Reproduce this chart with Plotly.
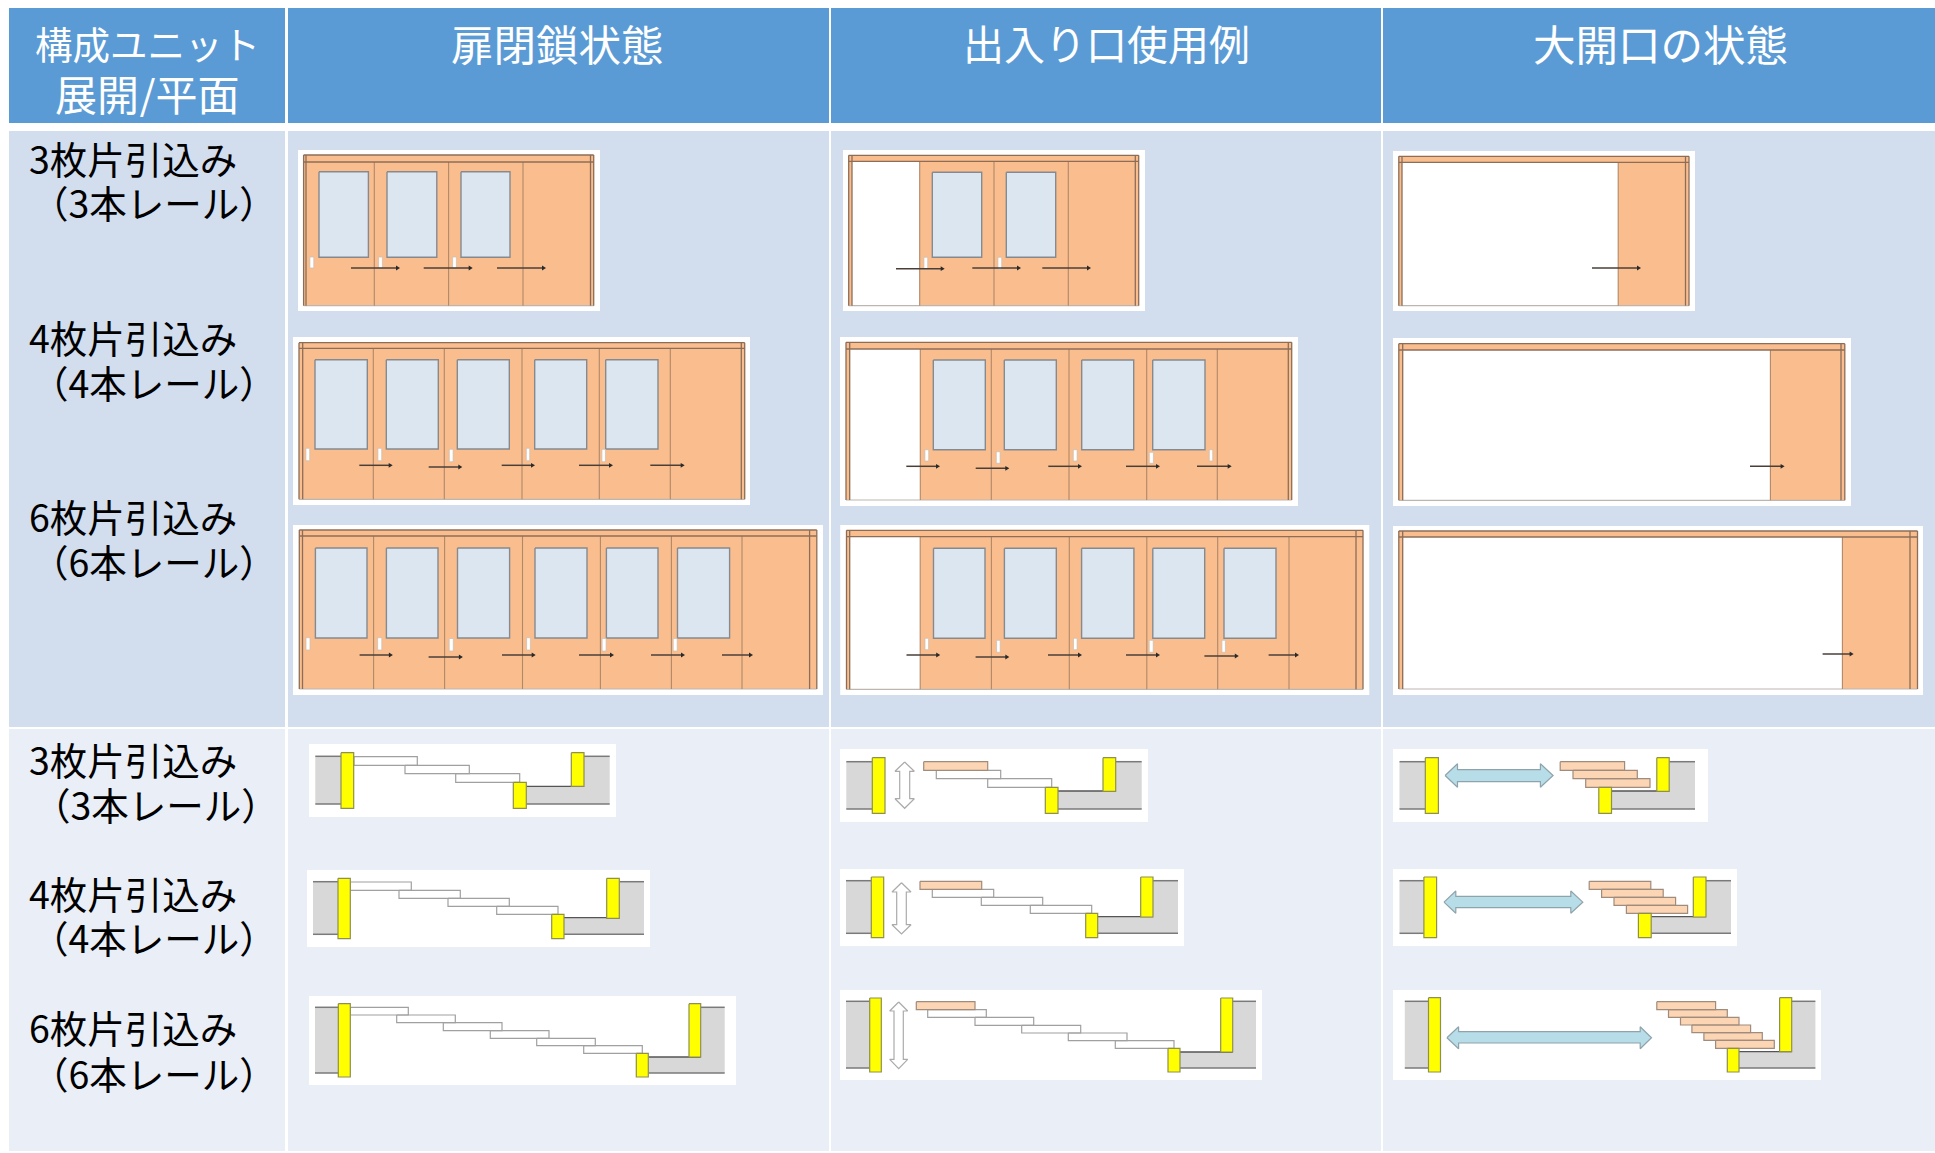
import plotly.graph_objects as go

# ---------- table text ----------
HEADERS = ["構成ユニット", "展開/平面", "扉閉鎖状態", "出入り口使用例", "大開口の状態"]
HEADER_X = [147, 147, 557, 1106, 1660]
HEADER_Y = [41.5, 91.5, 41.5, 41.5, 41.5]
HEADER_SIZE = [37.5, 42, 42.5, 41, 42.5]
LABELS_1 = ["3枚片引込み", "4枚片引込み", "6枚片引込み", "3枚片引込み", "4枚片引込み", "6枚片引込み"]
LABELS_2 = ["（3本レール）", "（4本レール）", "（6本レール）", "（3本レール）", "（4本レール）", "（6本レール）"]
LABEL_Y1 = [157, 336, 515, 758, 892, 1026]
LABEL_Y2 = [201, 381, 560, 803, 936, 1072]
LABEL_X2 = [29, 29, 29, 31, 29, 29]

# ---------- table grid (left, right) / (top, bottom) ----------
COL_SPANS = [(9, 285), (288, 829), (831, 1381), (1383, 1935)]
ROW_SPANS = [(8, 123), (131, 727), (729, 1151)]
ROW_COLORS = ["#5B9BD5", "#D2DDEE", "#E9EEF7"]

# ---------- elevation panels: box, frame, header bottom, post edges, door start,
# dividers, windows (x0,x1), window y, handles (x0,x1,y0,y1), arrows (x0,x1,y) ----------
E_CLOSED_3 = dict(box=(298, 600, 150, 311), frame=(303.6, 593.7, 155, 305.7), head=162, posts=(306, 590.5), door=306,
    div=[374.3, 448.6, 523], win=[(319, 368.4), (387, 436.8), (461, 510)], wy=(171.7, 257.3),
    hand=[(310.3, 313.4, 257, 268), (379, 382, 257, 268), (453, 456, 257, 268)],
    arr=[(351, 400, 268), (423.7, 472.7, 268), (497, 546, 268)])
E_CLOSED_4 = dict(box=(293, 750, 337, 505), frame=(299, 744.7, 342.7, 499.3), head=348.3, posts=(302.7, 741.3), door=302.7,
    div=[373.3, 444.3, 522, 599.3, 670.3],
    win=[(315, 367.3), (386.3, 438.3), (457.3, 509.3), (534.7, 586.7), (605.7, 658)], wy=(359.7, 449),
    hand=[(306.3, 309.3, 448.3, 460.7), (378.3, 381.3, 448.3, 460.7), (449.7, 452.7, 449.3, 461.7),
          (526.7, 529.3, 448.3, 460.7), (602.3, 605, 449.3, 461.7)],
    arr=[(359.3, 392.7, 465.3), (428.7, 462.3, 467), (501.7, 535, 465.3), (579, 613, 465.3), (650.3, 684.7, 465.3)])
E_CLOSED_6 = dict(box=(293, 823, 525, 695), frame=(299.3, 816.8, 530, 689), head=536, posts=(302.5, 809.6), door=302.5,
    div=[373.6, 444.6, 522.5, 600.4, 671.4, 742],
    win=[(315.4, 367), (386.4, 438), (457.5, 509.6), (535, 587), (606.4, 658), (677.5, 729.6)], wy=(548, 638),
    hand=[(306.4, 309.6, 637.7, 650), (378, 381.4, 637.7, 650), (449.6, 452.9, 638.5, 651),
          (527, 530, 637.7, 650), (602.5, 605.7, 638.5, 651), (673.6, 676.8, 638.5, 651)],
    arr=[(359.6, 392.9, 655), (428.6, 462.9, 657), (502, 535.7, 655), (579, 614, 655), (651, 685, 655), (722, 753, 655)])
E_USE_3 = dict(box=(843, 1145, 150, 311), frame=(848.7, 1138.7, 155.3, 305.7), head=161.3, posts=(852, 1135.3), door=919.7,
    div=[994, 1068.3], win=[(932.3, 981.7), (1006.3, 1055.7)], wy=(172.3, 257.3),
    hand=[(924.3, 927.3, 257.3, 269.3), (998.3, 1001.3, 257.3, 269.3)],
    arr=[(896, 944.7, 268.7), (972.3, 1021, 268), (1042.3, 1091, 268)])
E_USE_4 = dict(box=(840, 1298, 337, 506), frame=(846, 1291.7, 342.3, 500), head=349, posts=(849.7, 1288.3), door=920.3,
    div=[991.3, 1069, 1146.7, 1217.3],
    win=[(933.3, 985.3), (1004.3, 1056.3), (1081.7, 1133.7), (1152.7, 1205)], wy=(360, 449.7),
    hand=[(925.3, 928.3, 449.7, 461), (996.7, 999.7, 451.7, 463.3), (1073.7, 1076.7, 449.7, 461),
          (1149.7, 1153, 452.3, 463.3), (1209.7, 1212.3, 449.7, 461)],
    arr=[(906.3, 940, 466.3), (975.7, 1009.3, 468.3), (1048.3, 1082, 466.3), (1126, 1160, 466.3), (1197, 1231.7, 466.3)])
E_USE_6 = dict(box=(840.2, 1369.3, 525, 695), frame=(846.5, 1363, 530.3, 689.3), head=536.7, posts=(849.7, 1356), door=920.2,
    div=[991.4, 1069.3, 1146.8, 1217.7, 1289],
    win=[(933.5, 985), (1004.4, 1056.3), (1081.6, 1133.9), (1152.8, 1204.7), (1224, 1276)], wy=(548.3, 638.3),
    hand=[(925.4, 928.2, 638.3, 649.7), (997, 999.8, 640.3, 652.3), (1073.9, 1076.7, 638.3, 649.7),
          (1149.6, 1152.8, 640.3, 652.3), (1222.3, 1225, 640.3, 652.3)],
    arr=[(906.5, 940.2, 655), (975.6, 1009.3, 657), (1048, 1082, 655), (1126, 1160, 655), (1204.4, 1238.8, 656), (1268.6, 1299, 655)])
E_OPEN_3 = dict(box=(1393, 1695, 151, 311), frame=(1398.8, 1689, 156.3, 305.7), head=162.3, posts=(1402, 1685.5), door=1618.2,
    div=[], win=[], wy=None, hand=[], arr=[(1592, 1641, 268)])
E_OPEN_4 = dict(box=(1393, 1851, 338, 506), frame=(1398.8, 1844.8, 343.7, 500.3), head=350, posts=(1402.7, 1841), door=1770.4,
    div=[], win=[], wy=None, hand=[], arr=[(1750, 1784.6, 466.3)])
E_OPEN_6 = dict(box=(1393, 1923, 526, 695), frame=(1398.8, 1917.5, 531, 689), head=537, posts=(1402.7, 1910), door=1842.4,
    div=[], win=[], wy=None, hand=[], arr=[(1822.6, 1853.6, 654)])
ELEVATIONS = [E_CLOSED_3, E_CLOSED_4, E_CLOSED_6, E_USE_3, E_USE_4, E_USE_6, E_OPEN_3, E_OPEN_4, E_OPEN_6]

# ---------- plan panels: box, wall (left x, right x, top y, bottom y, inner y), left post,
# small post, right post (x0,x1,y0,y1), white leaves, peach leaves, arrow ----------
P_CLOSED_3 = dict(box=(309, 616, 744, 817), wall=(315.3, 609.7, 756.3, 804, 786.3), post=(341, 353.7, 752.7, 808.3),
    small=(513.3, 526.3, 782.3, 808.3), right=(571.3, 584, 752.7, 786.3),
    white=[(354, 417.3, 756.7, 765.3), (405, 469.3, 765.3, 773.7), (455.7, 519.7, 773.7, 782.3)], peach=[])
P_CLOSED_4 = dict(box=(307, 650, 870, 947), wall=(313, 644, 881.7, 934.3, 917.7), post=(338, 350.3, 878.3, 938.7),
    small=(551.7, 564, 914.3, 938.7), right=(606.7, 619.3, 878.3, 918.3),
    white=[(350.3, 411.3, 882, 890.3), (399, 460.3, 890.3, 898.3), (448, 509.3, 898.3, 906.3), (496.7, 558, 906.3, 914.3)], peach=[])
P_CLOSED_6 = dict(box=(309, 736, 996, 1085), wall=(315, 724.7, 1007.3, 1073, 1057), post=(338.3, 350.3, 1003.7, 1077),
    small=(636.3, 648.3, 1053.3, 1077), right=(689, 700.7, 1003.7, 1057),
    white=[(350.3, 408.3, 1007.3, 1015), (396.7, 455.3, 1015, 1022.7), (443.3, 502, 1022.7, 1030.7),
           (490.3, 549, 1030.7, 1038.3), (536.7, 595.3, 1038.3, 1045.7), (583.7, 642.3, 1045.7, 1053.3)], peach=[])
P_USE_3 = dict(box=(840, 1148, 749, 822), wall=(846.3, 1141.7, 761.7, 809, 791), post=(872.3, 885, 757.7, 813.3),
    small=(1045.3, 1058, 787.3, 813.3), right=(1103, 1115.7, 757.7, 791.3),
    white=[(936.3, 1000.7, 770.3, 778.7), (987.7, 1051.7, 778.7, 787.3)], peach=[(923.7, 987.7, 761.7, 770.3)],
    varrow=(895, 914.3, 899.7, 909.7, 762, 808.3, 771.3, 798.7))
P_USE_4 = dict(box=(840, 1184, 869, 946), wall=(846, 1178, 880.7, 933.3, 916.7), post=(871.3, 883.7, 877, 937.7),
    small=(1085.7, 1097.7, 913.3, 937.7), right=(1140.7, 1153, 877, 917),
    white=[(932.3, 993.7, 889.3, 897.3), (981.3, 1042.7, 897.3, 905.3), (1030.3, 1091.7, 905.3, 913.3)],
    peach=[(920, 981.7, 881.3, 889.3)], varrow=(892, 911, 896.7, 906.3, 882.7, 934, 892, 924.7))
P_USE_6 = dict(box=(840, 1262, 990, 1080), wall=(846, 1256, 1001.3, 1068, 1052), post=(869.7, 881.3, 998, 1072),
    small=(1168, 1180, 1048.3, 1072), right=(1220.7, 1232.7, 998, 1052),
    white=[(927.7, 986.3, 1009.7, 1017.3), (975, 1033.7, 1017.3, 1025.3), (1021.7, 1080.7, 1025.3, 1033),
           (1068.3, 1127, 1033, 1040.7), (1115.3, 1174, 1040.7, 1048.3)],
    peach=[(916.3, 975, 1001.7, 1009.7)], varrow=(889.7, 907.7, 894, 903.3, 1002, 1068.7, 1011, 1059.3))
P_OPEN_3 = dict(box=(1393, 1708, 749, 822), wall=(1399.5, 1695, 761.7, 809, 791), post=(1425.3, 1438.4, 757.7, 813.3),
    small=(1598.8, 1611.5, 787.3, 813.3), right=(1656.8, 1669.2, 757.7, 791.3), white=[],
    peach=[(1560.2, 1624.6, 761.7, 770.3), (1573, 1637.3, 770.3, 778.7), (1585.7, 1650, 778.7, 787.3)],
    harrow=(1445.1, 1553.1, 1457.5, 1540.4, 769.7, 781.7, 763.7, 787.3))
P_OPEN_4 = dict(box=(1393, 1737, 869, 946), wall=(1399.5, 1731, 880.7, 933.3, 916.7), post=(1423.9, 1436.6, 877, 937.7),
    small=(1638.4, 1651.2, 913.3, 937.7), right=(1693.3, 1706, 877, 917), white=[],
    peach=[(1589.2, 1650.8, 881.3, 889.3), (1601.6, 1663.2, 889.3, 897.3), (1614, 1675.6, 897.3, 905.3), (1626.4, 1687.6, 905.3, 913.3)],
    harrow=(1444, 1582.8, 1455.8, 1570.8, 896.3, 907.7, 891, 913.3))
P_OPEN_6 = dict(box=(1393, 1821, 990, 1080), wall=(1404.8, 1815.4, 1001.3, 1068, 1051.7), post=(1428.5, 1440.5, 997.7, 1072),
    small=(1727.3, 1739, 1048.3, 1072), right=(1779.6, 1791.7, 997.7, 1051.7), white=[],
    peach=[(1656.8, 1715.6, 1001.7, 1009.7), (1668.5, 1727.3, 1009.7, 1017.3), (1680.5, 1739, 1017.3, 1025),
           (1691.9, 1750.6, 1025, 1032.7), (1703.9, 1762.3, 1032.7, 1040.3), (1715.6, 1774.3, 1040.3, 1048.3)],
    harrow=(1446.9, 1651.5, 1458.6, 1640.2, 1031.7, 1043, 1026.7, 1048.7))
PLANS = [P_CLOSED_3, P_CLOSED_4, P_CLOSED_6, P_USE_3, P_USE_4, P_USE_6, P_OPEN_3, P_OPEN_4, P_OPEN_6]

# ---------- colours ----------
PEACH, GLASS, YELLOW, GREY = "#FABE8E", "#DCE6F1", "#FFFF00", "#D8D8D8"
LEAF_PEACH, BLUE = "#FCD5B4", "#B7DDE8"
L_FRAME, L_DIV, L_WIN = "#8C6E58", "#B08868", "#858A90"
L_YEL, L_LEAF, L_PLEAF, L_WALL = "#8F8F50", "#A0A0A0", "#A08C7C", "#7A7A7A"

fig = go.Figure()
_last = [None]


def poly(xs, ys, fill=None, line=None, width=1.0):
    """Add a closed polygon or open polyline; consecutive same-style items share a trace."""
    key = (fill, line, width)
    if _last[0] == key:
        tr = fig.data[-1]
        tr.x = tuple(tr.x) + (None,) + tuple(xs)
        tr.y = tuple(tr.y) + (None,) + tuple(ys)
        return
    _last[0] = key
    fig.add_trace(go.Scatter(
        x=list(xs), y=list(ys), mode="lines", hoverinfo="skip", showlegend=False,
        fill="toself" if fill else "none", fillcolor=fill,
        line=dict(color=line or "rgba(0,0,0,0)", width=width if line else 0, simplify=False)))


def rect(b, fill=None, line=None, width=1.0):
    x0, x1, y0, y1 = b
    poly([x0, x1, x1, x0, x0], [y0, y0, y1, y1, y0], fill, line, width)


def elevation(p):
    fx0, fx1, fy0, fy1 = p["frame"]
    rect(p["box"], "#FFFFFF")
    rect((p["door"], fx1, fy0, fy1), PEACH)
    rect((fx0, fx1, fy0, p["head"]), PEACH)
    rect((fx0, p["posts"][0], fy0, fy1), PEACH)
    rect((p["posts"][1], fx1, fy0, fy1), PEACH)
    poly([fx0, fx1], [fy1, fy1], None, "#BDB6B0", 1.2)
    for x in p["div"] + ([p["door"]] if p["door"] > p["posts"][0] + 1 else []):
        poly([x, x], [p["head"], fy1], None, L_DIV, 1.1)
    poly([fx0, fx1], [p["head"], p["head"]], None, L_FRAME, 1.3)
    poly([fx0, fx1], [fy0, fy0], None, L_FRAME, 1.3)
    for x in (fx0, p["posts"][0], p["posts"][1], fx1):
        poly([x, x], [fy0, fy1], None, L_FRAME, 1.3)
    for x0, x1 in p["win"]:
        rect((x0, x1, p["wy"][0], p["wy"][1]), GLASS, L_WIN, 1.4)
    for x0, x1, y0, y1 in p["hand"]:
        rect((x0 - 0.4, x1 + 0.4, y0, y1), "#FFFFFF", "#C9BDB2", 0.7)
    for x0, x1, y in p["arr"]:
        poly([x0, x1 - 2], [y, y], None, "#4A3F38", 1.5)
        poly([x1 - 4, x1, x1 - 4, x1 - 4], [y - 2.4, y, y + 2.4, y - 2.4], "#2A2A2A")


def plan(p):
    rect(p["box"], "#FFFFFF")
    wx0, wx1, wt, wb, wi = p["wall"]
    rect((wx0, p["post"][0], wt, wb), GREY)
    sx1 = p["small"][1]
    rx1 = p["right"][1]
    poly([sx1, rx1, rx1, wx1, wx1, sx1, sx1], [wi, wi, wt, wt, wb, wb, wi], GREY)
    poly([wx0, p["post"][0]], [wt, wt], None, L_WALL, 1.5)
    poly([wx0, p["post"][0]], [wb, wb], None, L_WALL, 1.5)
    poly([rx1, wx1], [wt, wt], None, L_WALL, 1.5)
    poly([sx1, wx1], [wb, wb], None, L_WALL, 1.5)
    poly([sx1, rx1], [wi, wi], None, "#555555", 1.3)
    for d in p["white"]:
        rect(d, "#FFFFFF", L_LEAF, 1.2)
    for d in p["peach"]:
        rect(d, LEAF_PEACH, L_PLEAF, 1.2)
    for b in (p["post"], p["small"], p["right"]):
        rect(b, YELLOW, L_YEL, 1.2)
    if "varrow" in p:
        x0, x1, sx0, sx1, y0, y1, h0, h1 = p["varrow"]
        cx = (x0 + x1) / 2
        poly([cx, x1, sx1, sx1, x1, cx, x0, sx0, sx0, x0, cx],
             [y0, h0, h0, h1, h1, y1, h1, h1, h0, h0, y0], "#FFFFFF", "#ABABAB", 1.2)
    if "harrow" in p:
        x0, x1, h0, h1, s0, s1, y0, y1 = p["harrow"]
        cy = (y0 + y1) / 2
        poly([x0, h0, h0, h1, h1, x1, h1, h1, h0, h0, x0],
             [cy, y0, s0, s0, y0, cy, y1, s1, s1, y1, cy], BLUE, "#8FA3AB", 1.2)


for (r0, r1), c in zip(ROW_SPANS, ROW_COLORS):
    for c0, c1 in COL_SPANS:
        rect((c0, c1, r0, r1), c)
for e in ELEVATIONS:
    elevation(e)
for pl in PLANS:
    plan(pl)

JP = "Noto Sans CJK JP"
ann = []
for t, x, y, s in zip(HEADERS, HEADER_X, HEADER_Y, HEADER_SIZE):
    ann.append(dict(x=x, y=y, text=t, xanchor="center", yanchor="middle", showarrow=False, height=50,
                    font=dict(family=JP, size=s, color="#FFFFFF")))
for t, y in zip(LABELS_1, LABEL_Y1):
    ann.append(dict(x=27, y=y, text=t, xanchor="left", yanchor="middle", showarrow=False, height=42,
                    font=dict(family=JP, size=37.5, color="#000000")))
for t, x, y in zip(LABELS_2, LABEL_X2, LABEL_Y2):
    ann.append(dict(x=x, y=y, text=t, xanchor="left", yanchor="middle", showarrow=False, height=42,
                    font=dict(family=JP, size=37.5, color="#000000")))

fig.update_layout(
    width=1935, height=1153, margin=dict(l=0, r=0, t=0, b=0),
    paper_bgcolor="#FFFFFF", plot_bgcolor="#FFFFFF", showlegend=False, annotations=ann,
    xaxis=dict(range=[0, 1935], visible=False, fixedrange=True),
    yaxis=dict(range=[1153, 0], visible=False, fixedrange=True),
)
fig.write_html("out.html", config=dict(displayModeBar=False),
               post_script="document.body.style.margin='0';document.body.style.overflow='hidden';")
